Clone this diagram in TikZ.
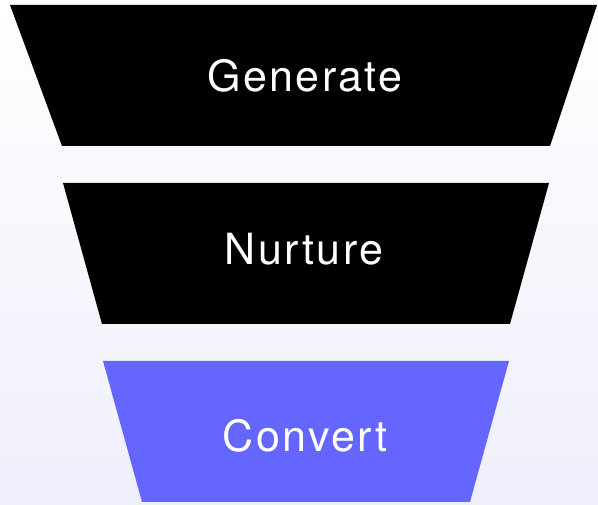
\documentclass[tikz,border=0pt]{standalone}
\usepackage{fontspec}
\setmainfont{TeX Gyre Heros}[LetterSpace=5.5]
\definecolor{violetbrand}{RGB}{100,102,255}
\definecolor{haze}{RGB}{238,239,251}
\begin{document}
\begin{tikzpicture}[x=1pt,y=-1pt,
  label/.style={text=white,anchor=base,inner sep=0pt,font=\fontsize{43}{43}\selectfont}]
  % page and soft vertical background
  \useasboundingbox (0,0) rectangle (598,505);
  \shade[top color=white,bottom color=haze] (0,0) rectangle (598,505);
  % funnel stages
  \fill[black]       (10,5)   -- (597,5)   -- (550,146) -- (62,146)  -- cycle;
  \fill[black]       (63,183) -- (549,183) -- (510,324) -- (102,324) -- cycle;
  \fill[violetbrand] (103,361) -- (509,361) -- (470,502) -- (142,502) -- cycle;
  % stage names
  \node[label] (generate) at (305,92)  {Generate};
  \node[label] (nurture)  at (304,265) {Nurture};
  \node[label] (convert)  at (305,452) {Convert};
\end{tikzpicture}
\end{document}
